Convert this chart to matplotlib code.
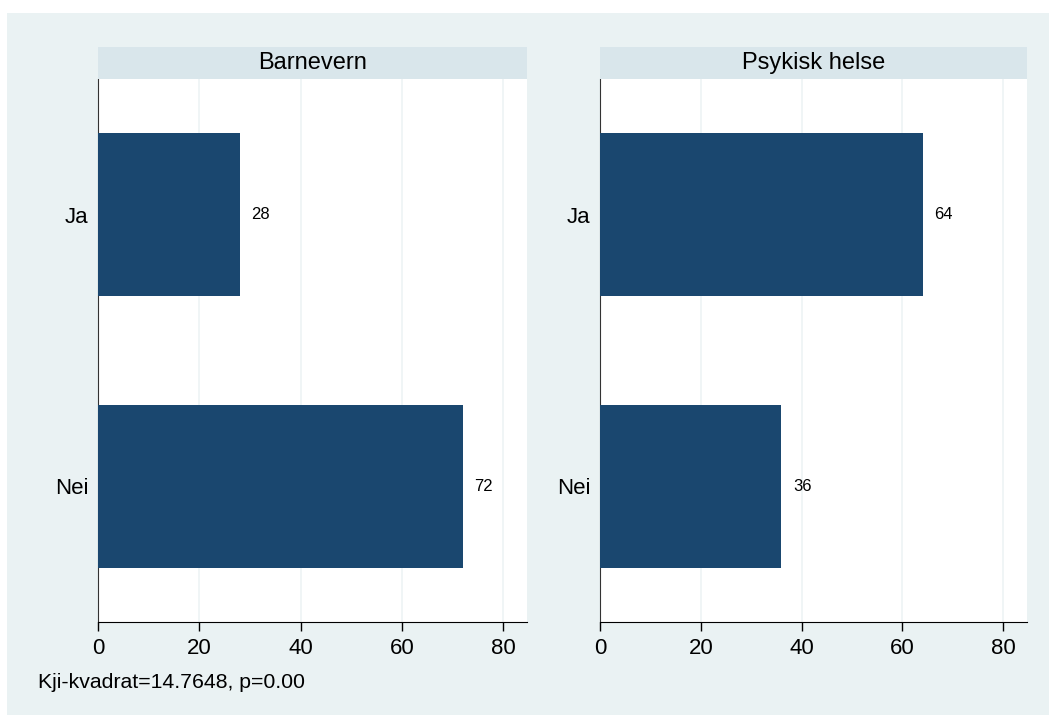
import matplotlib
matplotlib.use("Agg")
import matplotlib.pyplot as plt
from matplotlib.patches import Rectangle

panels = ["Barnevern", "Psykisk helse"]
categories = ["Nei", "Ja"]
values = {"Barnevern": [72, 28], "Psykisk helse": [36, 64]}
xticks = [0, 20, 40, 60, 80]
note = "Kji-kvadrat=14.7648, p=0.00"

plt.rcParams['font.family'] = ['Liberation Sans', 'DejaVu Sans']

W, H = 1049, 715
fig = plt.figure(figsize=(W / 100, H / 100), dpi=100)
fig.patch.set_facecolor("white")
bg = "#eaf2f3"
fig.patches.append(Rectangle((7 / W, 0), 1 - 7 / W, 1 - 13 / H, transform=fig.transFigure,
                             facecolor=bg, edgecolor="none", zorder=-10))

bar_color = "#1a476f"
strip_color = "#d9e6eb"
lefts = [98, 600]
rights = [527, 1027]
top_px, bot_px = 79, 622
strip_top = 47

for i, name in enumerate(panels):
    l = lefts[i] / W
    w = (rights[i] - lefts[i]) / W
    b = (H - bot_px) / H
    h = (bot_px - top_px) / H
    ax = fig.add_axes([l, b, w, h])
    ax.set_facecolor("white")
    ypos = list(range(len(categories)))
    ax.barh(ypos, values[name], height=0.6, color=bar_color, zorder=3)
    for y, v in zip(ypos, values[name]):
        ax.text(v + 2.3, y, f"{v}", va="center", ha="left", fontsize=12, color="black")
    ax.set_xlim(0, 84.7)
    ax.set_ylim(-0.5, 1.5)
    ax.set_yticks(ypos)
    ax.set_yticklabels(categories, fontsize=16)
    ax.set_xticks(xticks)
    ax.set_xticklabels([str(t) for t in xticks], fontsize=16)
    ax.tick_params(axis="y", length=0, pad=7)
    ax.tick_params(axis="x", length=6.5, width=1, pad=5)
    ax.grid(axis="x", color="#eef4f5", linewidth=1.2, zorder=0)
    for s in ["top", "right"]:
        ax.spines[s].set_visible(False)
    ax.spines["left"].set_color("#333333")
    ax.spines["bottom"].set_color("black")
    # strip title
    sb = (H - top_px) / H
    sh = (top_px - strip_top) / H
    fig.patches.append(Rectangle((l, sb), w, sh, transform=fig.transFigure,
                                 facecolor=strip_color, edgecolor="none", zorder=1))
    fig.text(l + w / 2, sb + sh / 2, name, ha="center", va="center", fontsize=17)

fig.text(38 / W, 1 - 682 / H, note, ha="left", va="center", fontsize=15.3)

fig.savefig("out.png", dpi=100)
